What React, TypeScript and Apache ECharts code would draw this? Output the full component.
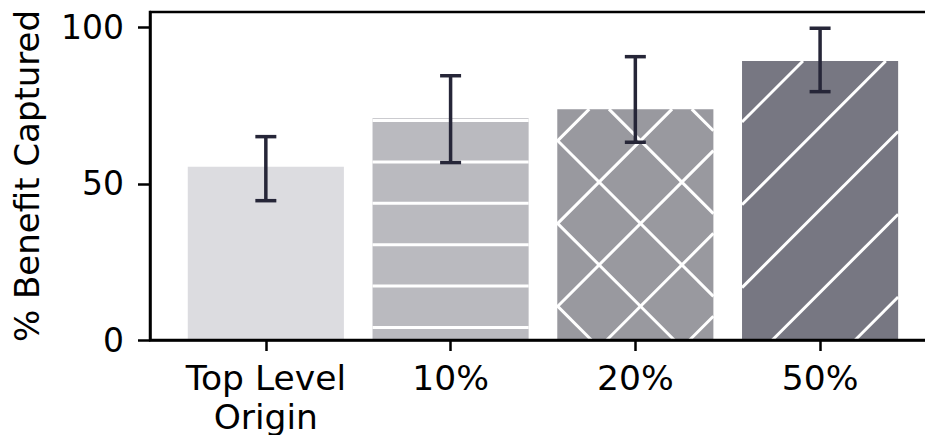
import React, { useEffect, useRef } from "react";
import * as echarts from "echarts";

const categories = ["Top Level\nOrigin", "10%", "20%", "50%"];
const values = [55.5, 71.0, 73.9, 89.3];
const errLow = [44.6, 56.8, 63.3, 79.5];
const errHigh = [65.1, 84.6, 90.7, 99.8];
const barColors = ["#dcdce0", "#bababf", "#99999f", "#777782"];
const hatches = ["none", "horizontal", "cross", "slash"];
const yTicks = [0, 50, 100];

const FONT = "DejaVu Sans";
const BAR_W = 0.845;
const CELL = 82.8;
const H_STEP = 41.4;
const H_PHASE = 120.5;
const SLASH_PHASE = 864;
const BACK_PHASE = 417;

function mod(a: number, m: number) {
  return ((a % m) + m) % m;
}

function hatchLines(kind: string, x0: number, x1: number, y0: number, y1: number) {
  const lines: number[][] = [];
  if (kind === "horizontal") {
    let y = y0 + mod(H_PHASE - y0, H_STEP);
    for (; y <= y1; y += H_STEP) lines.push([x0, y, x1, y]);
  }
  if (kind === "slash" || kind === "cross") {
    const cMin = x0 + y0;
    const cMax = x1 + y1;
    let c = cMin + mod(SLASH_PHASE - cMin, CELL);
    for (; c <= cMax; c += CELL) {
      const xa = Math.max(x0, c - y1);
      const xb = Math.min(x1, c - y0);
      if (xb > xa) lines.push([xa, c - xa, xb, c - xb]);
    }
  }
  if (kind === "cross") {
    const cMin = x0 - y1;
    const cMax = x1 - y0;
    let c = cMin + mod(BACK_PHASE - cMin, CELL);
    for (; c <= cMax; c += CELL) {
      const xa = Math.max(x0, c + y0);
      const xb = Math.min(x1, c + y1);
      if (xb > xa) lines.push([xa, xa - c, xb, xb - c]);
    }
  }
  return lines;
}

export default function App() {
  const ref = useRef<HTMLDivElement>(null);
  useEffect(() => {
    if (!ref.current) return;
    const chart = echarts.init(ref.current, undefined, { renderer: "svg" });
    const barData = values.map((v, i) => [i, v]);
    const errData = values.map((_, i) => [i, errLow[i], errHigh[i]]);
    chart.setOption({
      animation: false,
      grid: {
        left: 150,
        top: 12,
        width: 785,
        height: 328,
        outerBoundsMode: "none",
        containLabel: false,
        show: true,
        borderColor: "#000",
        borderWidth: 2.5,
        z: 5,
      },
      xAxis: {
        type: "value",
        min: -0.627,
        max: 3.622,
        z: 6,
        axisLine: { show: true, onZero: false, lineStyle: { color: "#000", width: 2.5 } },
        axisTick: {
          show: true,
          length: 11,
          lineStyle: { color: "#000", width: 2.5 },
          customValues: [0, 1, 2, 3],
        },
        axisLabel: {
          customValues: [0, 1, 2, 3],
          formatter: (v: number) => categories[Math.round(v)] ?? "",
          color: "#000",
          fontFamily: FONT,
          fontSize: 34.5,
          lineHeight: 39,
          margin: 18,
        },
        splitLine: { show: false },
      },
      yAxis: {
        type: "value",
        min: 0,
        max: 105,
        interval: 50,
        z: 6,
        name: "% Benefit Captured",
        nameLocation: "middle",
        nameGap: 106,
        nameTextStyle: { color: "#000", fontFamily: FONT, fontSize: 34 },
        axisLine: { show: true, onZero: false, lineStyle: { color: "#000", width: 2.5 } },
        axisTick: {
          show: true,
          length: 12,
          lineStyle: { color: "#000", width: 2.5 },
          customValues: yTicks,
        },
        axisLabel: {
          customValues: yTicks,
          color: "#000",
          fontFamily: FONT,
          fontSize: 33,
          margin: 26,
        },
        splitLine: { show: false },
      },
      series: [
        {
          type: "custom",
          data: barData,
          z: 2,
          renderItem: (params: any, api: any) => {
            const i = api.value(0);
            const v = api.value(1);
            const top = api.coord([i, v]);
            const base = api.coord([i, 0]);
            const w = api.size([BAR_W, 0])[0];
            const x0 = top[0] - w / 2;
            const x1 = top[0] + w / 2;
            const y0 = top[1];
            const y1 = base[1];
            const children: any[] = [
              {
                type: "rect",
                shape: { x: x0, y: y0, width: w, height: y1 - y0 },
                style: { fill: barColors[i] },
              },
            ];
            hatchLines(hatches[i], x0, x1, y0, y1).forEach((l) => {
              children.push({
                type: "line",
                shape: { x1: l[0], y1: l[1], x2: l[2], y2: l[3] },
                style: { stroke: "#fff", lineWidth: 3 },
              });
            });
            return { type: "group", children };
          },
        },
        {
          type: "custom",
          data: errData,
          z: 3,
          renderItem: (params: any, api: any) => {
            const i = api.value(0);
            const lo = api.coord([i, api.value(1)]);
            const hi = api.coord([i, api.value(2)]);
            const cap = 10.5;
            const st = { stroke: "#262638", lineWidth: 3.5 };
            return {
              type: "group",
              children: [
                { type: "line", shape: { x1: lo[0], y1: lo[1], x2: hi[0], y2: hi[1] }, style: st },
                { type: "line", shape: { x1: lo[0] - cap, y1: lo[1], x2: lo[0] + cap, y2: lo[1] }, style: st },
                { type: "line", shape: { x1: hi[0] - cap, y1: hi[1], x2: hi[0] + cap, y2: hi[1] }, style: st },
              ],
            };
          },
        },
      ],
    });
    return () => chart.dispose();
  }, []);
  return (
    <div
      ref={ref}
      style={{ position: "absolute", left: 0, top: 0, width: 925, height: 435 }}
    />
  );
}
